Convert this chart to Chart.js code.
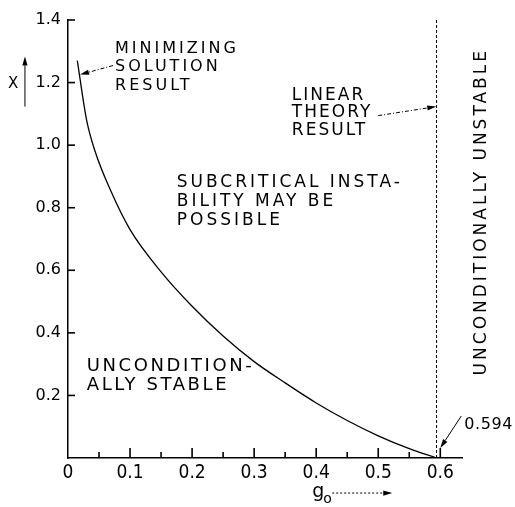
<!DOCTYPE html>
<html>
<head>
<meta charset="utf-8">
<script src="https://cdn.jsdelivr.net/npm/chart.js@4.4.1/dist/chart.umd.min.js"></script>
<style>
html,body{margin:0;padding:0;background:#fff;}
#wrap{width:515px;height:507px;position:relative;}
</style>
</head>
<body>
<div id="wrap"><canvas id="c" width="515" height="507"></canvas></div>
<script>
// ---- data ----
const gValues = [0.015, 0.030, 0.044, 0.068, 0.10, 0.15, 0.20, 0.25, 0.30, 0.35, 0.40, 0.45, 0.50, 0.55, 0.594];
const xValues = [1.27, 1.08, 0.978, 0.858, 0.73, 0.595, 0.485, 0.39, 0.308, 0.24, 0.176, 0.12, 0.071, 0.030, 0.0];
const linearTheoryG = [0.594, 0.594];
const linearTheoryX = [0.0, 1.4];
const xTickStep = 0.05;
const yTickStep = 0.2;
const xRange = [0, 0.635];
const yRange = [0, 1.4];

// ---- annotations (data coordinates) ----
const FONT = '"DejaVu Sans", sans-serif';
const textNotes = [
  {lines:['MINIMIZING','SOLUTION','RESULT'], x:0.0758, y:1.296, size:16, ls:3, lh:18.5},
  {lines:['SUBCRITICAL INSTA-','BILITY MAY BE','POSSIBLE'], x:0.1753, y:0.8662, size:17, ls:3, lh:19},
  {lines:['LINEAR','THEORY','RESULT'], x:0.3608, y:1.1456, size:17, ls:2, lh:17.5},
  {lines:['UNCONDITION-','ALLY STABLE'], x:0.0302, y:0.2784, size:18, ls:2.6, lh:19},
  {lines:['0.594'], x:0.6387, y:0.0928, size:16, ls:0.6, lh:18},
  {lines:['X'], x:-0.0968, y:1.184, size:15, ls:0, lh:18}
];
const verticalNote = {text:'UNCONDITIONALLY UNSTABLE', x:0.6742, y:0.7872, size:17, ls:3};
const arrowNotes = [
  {from:[0.0726,1.2544], to:[0.0194,1.2256], dash:[4,2,1,2]},
  {from:[0.5000,1.0944], to:[0.5935,1.1232], dash:[4,2,1,2]},
  {from:[0.6339,0.1344], to:[0.6000,0.0320], dash:[]},
  {from:[-0.0694,1.1232], to:[-0.0694,1.2832], dash:[]},
  {from:[0.4258,-0.112], to:[0.5226,-0.112], dash:[2,2]}
];

const decorPlugin = {
  id:'decor',
  afterDraw(chart){
    const ctx = chart.ctx, xs = chart.scales.x, ys = chart.scales.y;
    const px = v => xs.getPixelForValue(v), py = v => ys.getPixelForValue(v);
    ctx.save();
    ctx.setLineDash([]);
    ctx.strokeStyle = '#000'; ctx.fillStyle = '#000'; ctx.lineWidth = 1.6;
    // inner tick marks
    const y0 = py(0), x0 = px(0);
    for (let k = 1; k * xTickStep <= xRange[1] + 1e-9; k++) {
      const p = px(k * xTickStep);
      const major = k % 2 === 0;
      ctx.beginPath(); ctx.moveTo(p, y0); ctx.lineTo(p, y0 - (major ? 10 : 6)); ctx.stroke();
    }
    for (let k = 1; k * yTickStep <= yRange[1] + 1e-9; k++) {
      const p = py(k * yTickStep);
      ctx.beginPath(); ctx.moveTo(x0, p); ctx.lineTo(x0 + 7, p); ctx.stroke();
    }
    // texts
    ctx.textBaseline = 'alphabetic'; ctx.textAlign = 'left';
    textNotes.forEach(n => {
      ctx.font = n.size + 'px ' + FONT;
      ctx.letterSpacing = n.ls + 'px';
      n.lines.forEach((l, i) => ctx.fillText(l, px(n.x), py(n.y) + i*n.lh));
    });
    // g0 title
    ctx.letterSpacing = '0px';
    const gx = px(0.3935), gy = py(-0.125);
    ctx.font = '19px ' + FONT; ctx.fillText('g', gx, gy);
    ctx.font = '14px ' + FONT; ctx.fillText('o', gx + 11, gy + 6);
    // vertical text
    ctx.save();
    ctx.translate(px(verticalNote.x), py(verticalNote.y));
    ctx.rotate(-Math.PI/2);
    ctx.font = verticalNote.size + 'px ' + FONT;
    ctx.letterSpacing = verticalNote.ls + 'px';
    ctx.textAlign = 'center';
    ctx.fillText(verticalNote.text, 0, 0);
    ctx.restore();
    // arrows
    ctx.lineWidth = 1;
    arrowNotes.forEach(a => {
      const ax = px(a.from[0]), ay = py(a.from[1]), bx = px(a.to[0]), by = py(a.to[1]);
      const ang = Math.atan2(by - ay, bx - ax);
      const L = 9, W = 2.6;
      const hx = bx - L*Math.cos(ang), hy = by - L*Math.sin(ang);
      ctx.setLineDash(a.dash);
      ctx.beginPath(); ctx.moveTo(ax, ay); ctx.lineTo(hx, hy); ctx.stroke();
      ctx.setLineDash([]);
      ctx.beginPath();
      ctx.moveTo(bx, by);
      ctx.lineTo(hx + W*Math.sin(ang), hy - W*Math.cos(ang));
      ctx.lineTo(hx - W*Math.sin(ang), hy + W*Math.cos(ang));
      ctx.closePath(); ctx.fill();
    });
    ctx.restore();
  }
};

const curve = gValues.map((g, i) => ({x:g, y:xValues[i]}));
const dashLine = linearTheoryG.map((g, i) => ({x:g, y:linearTheoryX[i]}));

new Chart(document.getElementById('c'), {
  type:'line',
  data:{datasets:[
    {data:curve, borderColor:'#000', borderWidth:1.3, pointRadius:0, cubicInterpolationMode:'monotone', fill:false},
    {data:dashLine, borderColor:'#000', borderWidth:1, borderDash:[3,2], pointRadius:0, fill:false}
  ]},
  options:{
    responsive:false, animation:false,
    layout:{padding:{left:0, top:20, right:53, bottom:0}},
    plugins:{legend:{display:false}, tooltip:{enabled:false}},
    scales:{
      x:{type:'linear', min:xRange[0], max:xRange[1],
        afterFit(s){ s.height = 49; },
        border:{color:'#000', width:1.5},
        grid:{display:true, drawOnChartArea:false, drawTicks:false, color:'rgba(0,0,0,0)'},
        ticks:{stepSize:xTickStep, includeBounds:false, autoSkip:false, maxRotation:0, padding:4, color:'#000',
          font:{family:'"DejaVu Sans Condensed", "DejaVu Sans", sans-serif', size:19},
          callback(v){ const r = Math.round(v*10); return Math.abs(v*10 - r) < 1e-6 ? (r === 0 ? '0' : (r/10).toFixed(1)) : ''; }}
      },
      y:{type:'linear', min:yRange[0], max:yRange[1],
        afterFit(s){ s.width = 68; },
        border:{color:'#000', width:1.5},
        grid:{display:true, drawOnChartArea:false, drawTicks:false, color:'rgba(0,0,0,0)'},
        ticks:{stepSize:yTickStep, padding:7, color:'#000',
          font:{family:FONT, size:16},
          callback(v){ return v === 0 ? '' : v.toFixed(1); }}
      }
    }
  },
  plugins:[decorPlugin]
});
</script>
</body>
</html>
